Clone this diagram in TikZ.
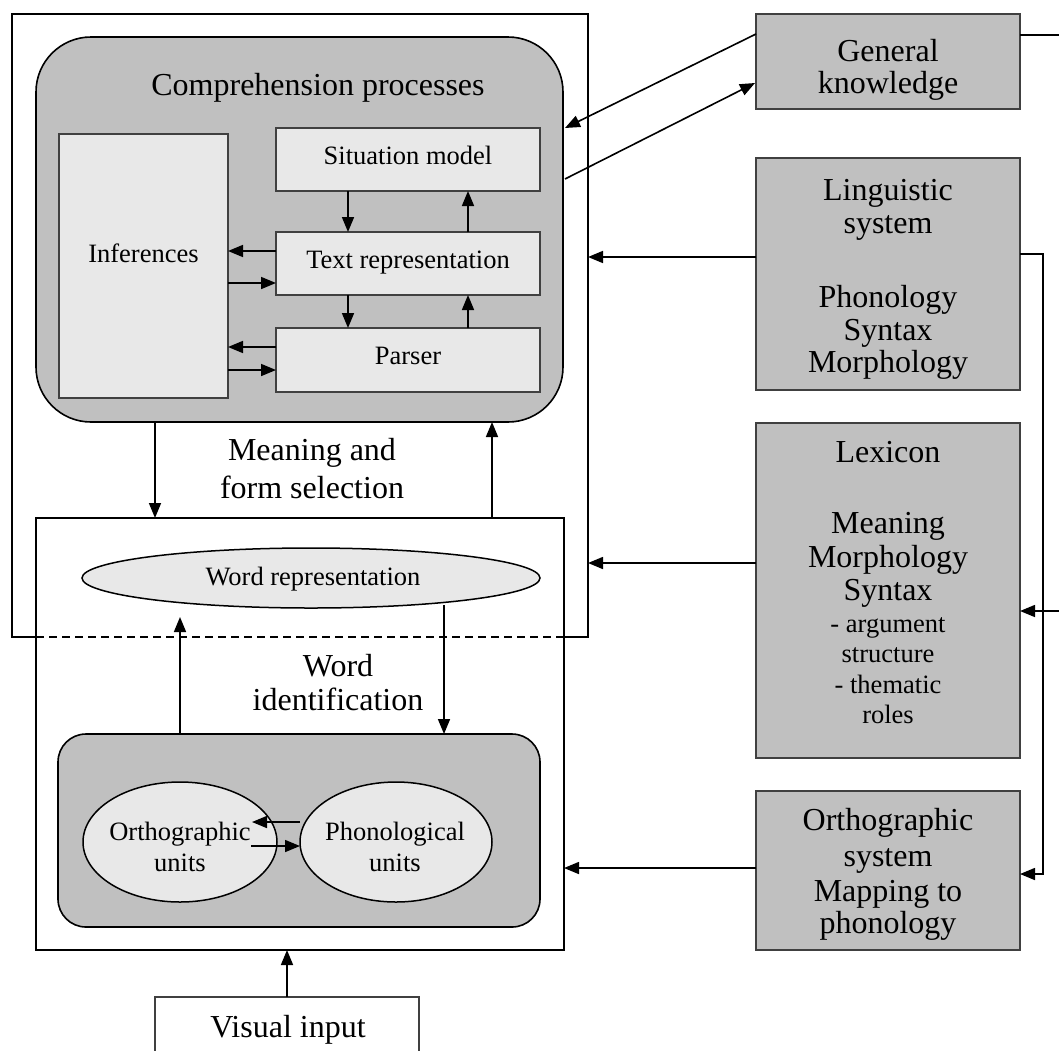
\documentclass[tikz,border=0pt]{standalone}
\usepackage{fontspec}
\setmainfont{Liberation Serif}
\usetikzlibrary{arrows.meta,calc,shapes.geometric}
\definecolor{boxgray}{HTML}{C0C0C0}
\definecolor{lite}{HTML}{E8E8E8}
\definecolor{edgegray}{HTML}{404040}
\begin{document}
\begin{tikzpicture}[x=1pt,y=-1pt,
 every node/.style={inner sep=0pt, outer sep=0pt},
 big/.style={font=\fontsize{32}{34}\selectfont},
 small/.style={font=\fontsize{26.5}{30}\selectfont},
 graybox/.style={draw=edgegray, line width=1.5pt, fill=boxgray, rectangle},
 litebox/.style={draw=edgegray, line width=1.5pt, fill=lite, rectangle},
 roundbox/.style={draw=black, line width=1.6pt, fill=boxgray, rectangle},
 oval/.style={ellipse, draw=black, line width=1.5pt, fill=lite},
 arr/.style={line width=1.6pt, -{Triangle[length=15pt,width=12pt]}},
 ln/.style={line width=1.6pt},
 frm/.style={draw=black, line width=2pt}]
\useasboundingbox (0,0) rectangle (1059,1050);
\clip (0,0) rectangle (1059,1050);
\fill[white] (0,0) rectangle (1059,1050);

% upper frame and lower box
\node[minimum width=576pt, minimum height=623pt] (frame) at (300,325.5) {};
\node[frm, minimum width=528pt, minimum height=432pt] (lower) at (300,734) {};
\draw[frm] (frame.south west -| lower.west) -- (frame.south west) -- (frame.north west) -- (frame.north east) -- (frame.south east) -- (frame.south east -| lower.east);
\draw[line width=1.6pt, dash pattern=on 8pt off 5pt] (frame.south west -| lower.west) -- (frame.south east -| lower.east);

% comprehension processes
\node[roundbox, rounded corners=55pt, minimum width=527pt, minimum height=385pt] (comp) at (299.5,229.5) {};
\node[big, anchor=base] (compt) at (318,95) {Comprehension processes};
\node[litebox, minimum width=169pt, minimum height=264pt] (inf) at (143.5,266) {};
\node[small, anchor=base] (inft) at (143.5,262) {Inferences};
\node[litebox, minimum width=264pt, minimum height=63pt] (sit) at (408,159.5) {};
\node[small, anchor=base] (sitt) at (408,164) {Situation model};
\node[litebox, minimum width=264pt, minimum height=63pt] (trep) at (408,263.5) {};
\node[small, anchor=base] (trept) at (408,268) {Text representation};
\node[litebox, minimum width=264pt, minimum height=64pt] (pars) at (408,360) {};
\node[small, anchor=base] (parst) at (408,364) {Parser};

\draw[arr] ($(sit.south west)+(72,0)$) -- ($(trep.north west)+(72,0)$);
\draw[arr] ($(trep.north west)+(192,0)$) -- ($(sit.south west)+(192,0)$);
\draw[arr] ($(trep.south west)+(72,0)$) -- ($(pars.north west)+(72,0)$);
\draw[arr] ($(pars.north west)+(192,0)$) -- ($(trep.south west)+(192,0)$);
\draw[arr] ($(trep.west)+(0,-12.5)$) -- ($(trep.west -| inf.east)+(0,-12.5)$);
\draw[arr] ($(trep.west -| inf.east)+(0,19.5)$) -- ($(trep.west)+(0,19.5)$);
\draw[arr] ($(pars.west)+(0,-13)$) -- ($(pars.west -| inf.east)+(0,-13)$);
\draw[arr] ($(pars.west -| inf.east)+(0,10)$) -- ($(pars.west)+(0,10)$);

% meaning and form selection
\node[big, anchor=base] (mf1) at (312,460) {Meaning and};
\node[big, anchor=base] (mf2) at (312,498) {form selection};
\draw[arr] ($(comp.south west)+(119,0)$) -- ($(lower.north west)+(119,0)$);
\draw[arr] ($(lower.north west)+(456,0)$) -- ($(comp.south west)+(456,0)$);

% word identification
\node[oval, minimum width=458pt, minimum height=60pt] (wrep) at (311,578) {};
\node[small, anchor=base] (wrept) at (313,585) {Word representation};
\node[big, anchor=base] (wi1) at (338,676) {Word};
\node[big, anchor=base] (wi2) at (338,710) {identification};
\node[roundbox, rounded corners=28pt, minimum width=482pt, minimum height=193pt] (wid) at (299,830.5) {};
\node[oval, minimum width=194pt, minimum height=120pt] (orth) at (180,842) {};
\node[oval, minimum width=192pt, minimum height=120pt] (phon) at (396,842) {};
\node[small, anchor=base] (ot1) at (180,840) {Orthographic};
\node[small, anchor=base] (ot2) at (180,871) {units};
\node[small, anchor=base] (pt1) at (395,840) {Phonological};
\node[small, anchor=base] (pt2) at (395,871) {units};
\draw[arr] ($(phon.west)+(0,-20)$) -- ($(orth.center)+(72,-20)$);
\draw[arr] ($(orth.center)+(71,4)$) -- ($(phon.west)+(0,4)$);
\draw[arr] ($(wid.north west)+(122,0)$) -- ($(wrep.south)+(-131,9)$);
\draw[arr] ($(wrep.south)+(133,-3)$) -- ($(wid.north west)+(386,0)$);

% visual input
\node[draw=edgegray, line width=1.5pt, fill=white, minimum width=264pt, minimum height=80pt] (vis) at (287,1037) {};
\node[big, anchor=base] (vist) at (288,1037) {Visual input};
\draw[arr] (vis.north) -- (lower.south -| vis.north);

% right-hand boxes
\node[graybox, minimum width=264pt, minimum height=95pt] (gen) at (888,61.5) {};
\node[graybox, minimum width=264pt, minimum height=232pt] (ling) at (888,274) {};
\node[graybox, minimum width=264pt, minimum height=335pt] (lex) at (888,590.5) {};
\node[graybox, minimum width=264pt, minimum height=159pt] (osys) at (888,870.5) {};

\foreach \t/\y [count=\i] in {General/61, knowledge/93}
  \node[big, anchor=base] (gt\i) at (888,\y) {\t};
\foreach \t/\y [count=\i] in {Linguistic/200, system/233, Phonology/307, Syntax/340, Morphology/372}
  \node[big, anchor=base] (lt\i) at (888,\y) {\t};
\foreach \t/\y [count=\i] in {Lexicon/462, Meaning/533, Morphology/567, Syntax/600}
  \node[big, anchor=base] (xt\i) at (888,\y) {\t};
\foreach \t/\y [count=\i] in {{- argument}/632, structure/662, {- thematic}/693, roles/723}
  \node[small, anchor=base] (xs\i) at (888,\y) {\t};
\foreach \t/\y [count=\i] in {Orthographic/830, system/866, {Mapping to}/901, phonology/933}
  \node[big, anchor=base] (st\i) at (888,\y) {\t};

% connectors on the right
\draw[arr] ($(gen.west)+(0,-27.5)$) -- ($(comp.north east)+(2,91)$);
\draw[arr] ($(comp.north east)+(2,142)$) -- ($(gen.west)+(-1,21.5)$);
\coordinate (genout) at (1059,35);
\draw[ln] (gen.east |- genout) -- (genout);
\draw[arr] ($(ling.west)+(0,-17)$) -- ($(ling.west -| frame.east)+(0,-17)$);
\draw[arr] ($(lex.west)+(0,-27.5)$) -- ($(lex.west -| frame.east)+(0,-27.5)$);
\draw[arr] ($(osys.west)+(0,-2.5)$) -- ($(osys.west -| lower.east)+(0,-2.5)$);
\draw[arr] ($(ling.east)+(0,-20)$) -- ++(23,0) |- ($(osys.east)+(0,3.5)$);
\coordinate (lexin) at (1059,611);
\draw[arr] (lexin) -- (lexin -| lex.east);
\end{tikzpicture}
\end{document}
